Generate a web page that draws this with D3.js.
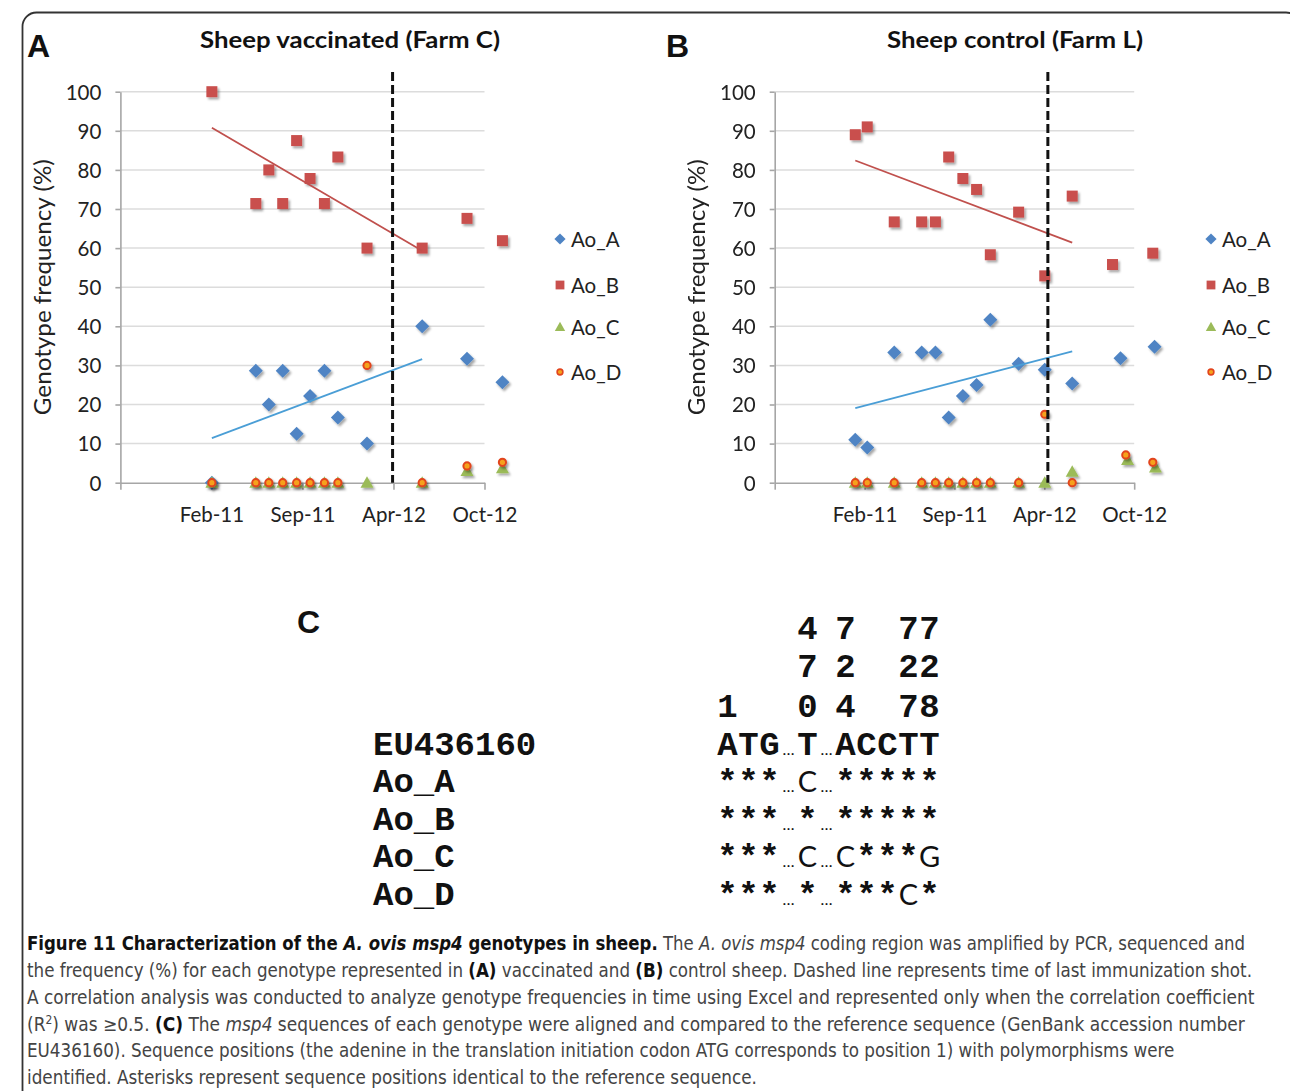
<!DOCTYPE html>
<html>
<head>
<meta charset="utf-8">
<script src="https://cdn.jsdelivr.net/npm/d3@7"></script>
<style>
  body { margin: 0; background: #fff; }
  svg { display: block; }
</style>
</head>
<body>
<svg id="fig" width="1290" height="1091"></svg>
<script>
// ---------- data ----------
var tickLabels = ["Feb-11", "Sep-11", "Apr-12", "Oct-12"];
var tickDates = ["2011-02-26", "2011-09-17", "2012-04-07", "2012-10-27"];
var axisStart = "2010-08-07";
var yTicks = [0, 10, 20, 30, 40, 50, 60, 70, 80, 90, 100];
var genotypes = ["Ao_A", "Ao_B", "Ao_C", "Ao_D"];

// Farm C (vaccinated)
var farmC_dates = ["2011-02-27", "2011-06-05", "2011-07-04", "2011-08-04", "2011-09-04", "2011-10-04",
                   "2011-11-05", "2011-12-05", "2012-02-08", "2012-06-10", "2012-09-18", "2012-12-06"];
var farmC_A = [0, 28.6, 20, 28.6, 12.5, 22.2, 28.6, 16.7, 10, 40, 31.7, 25.7];
var farmC_B = [100, 71.4, 80, 71.4, 87.5, 77.8, 71.4, 83.3, 60, 60, 67.6, 61.9];
var farmC_C = [0, 0, 0, 0, 0, 0, 0, 0, 0, 0, 3, 3.7];
var farmC_D = [0, 0, 0, 0, 0, 0, 0, 0, 30, 0, 4.3, 5.2];
var farmC_trendDates = ["2011-02-27", "2012-06-10"];
var farmC_trendA = [11.4, 31.6];
var farmC_trendB = [90.8, 59.3];
var farmC_lastShot = "2012-04-05";

// Farm L (control)
var farmL_dates = ["2011-02-05", "2011-03-04", "2011-05-04", "2011-07-05", "2011-08-05", "2011-09-04",
                   "2011-10-06", "2011-11-06", "2011-12-07", "2012-02-09", "2012-04-08", "2012-06-09"];
var farmL_A = [11, 9, 33.3, 33.3, 33.3, 16.7, 22.2, 25, 41.7, 30.4, 28.9, 25.4];
var farmL_B = [89, 91, 66.7, 66.7, 66.7, 83.3, 77.8, 75, 58.3, 69.2, 52.9, 73.3];
var farmL_C = [0, 0, 0, 0, 0, 0, 0, 0, 0, 0, 0, 2.8];
var farmL_D = [0, 0, 0, 0, 0, 0, 0, 0, 0, 0, 17.5, 0];
// last two samples are plotted at slightly different dates per genotype
var farmL_lateDates_A = ["2012-09-26", "2012-12-12"], farmL_late_A = [31.8, 34.8];
var farmL_lateDates_B = ["2012-09-08", "2012-12-08"], farmL_late_B = [55.8, 58.7];
var farmL_lateDates_C = ["2012-10-12", "2012-12-14"], farmL_late_C = [5.8, 3.9];
var farmL_lateDates_D = ["2012-10-08", "2012-12-08"], farmL_late_D = [7.1, 5.2];
var farmL_trendDates = ["2011-02-05", "2012-06-09"];
var farmL_trendA = [19.1, 33.6];
var farmL_trendB = [82.4, 61.4];
var farmL_lastShot = "2012-04-15";

// panel C alignment
var refName = "EU436160";
var refSeq = "ATG…T…ACCTT";
var genotypeSeqs = ["***…C…*****", "***…*…*****", "***…C…C***G", "***…*…***C*"];
var seqPositions = ["1", "", "", "470", "724", "", "", "727", "728"];

// caption
var captionLines = [
  [["Figure 11 Characterization of the ", "b"], ["A. ovis msp4", "bi"], [" genotypes in sheep.", "b"], [" The ", "n"], ["A. ovis msp4", "i"], [" coding region was amplified by PCR, sequenced and", "n"]],
  [["the frequency (%) for each genotype represented in ", "n"], ["(A)", "b"], [" vaccinated and ", "n"], ["(B)", "b"], [" control sheep. Dashed line represents time of last immunization shot.", "n"]],
  [["A correlation analysis was conducted to analyze genotype frequencies in time using Excel and represented only when the correlation coefficient", "n"]],
  [["(R", "n"], ["2", "sup"], [") was \u22650.5. ", "n"], ["(C)", "b"], [" The ", "n"], ["msp4", "i"], [" sequences of each genotype were aligned and compared to the reference sequence (GenBank accession number", "n"]],
  [["EU436160). Sequence positions (the adenine in the translation initiation codon ATG corresponds to position 1) with polymorphisms were", "n"]],
  [["identified. Asterisks represent sequence positions identical to the reference sequence.", "n"]]
];
var captionWidths = [1219, 1226, 1228, 1219, 1148, 730];

// ---------- drawing ----------
var parse = d3.timeParse("%Y-%m-%d");
var svg = d3.select("#fig");
var chartFont = "Lato, 'Open Sans', sans-serif";

var defs = svg.append("defs");
defs.append("filter").attr("id", "shadow")
    .attr("x", "-60%").attr("y", "-60%").attr("width", "220%").attr("height", "220%")
  .append("feDropShadow")
    .attr("dx", 1.8).attr("dy", 2.2).attr("stdDeviation", 1.3)
    .attr("flood-color", "#000").attr("flood-opacity", 0.35);

// frame
svg.append("rect")
    .attr("x", 22.5).attr("y", 12.5).attr("width", 1277.5).attr("height", 1200)
    .attr("rx", 14)
    .attr("fill", "none").attr("stroke", "#333").attr("stroke-width", 1.8);

function zipSeries(dates, values) {
    return dates.map(function(d, i) { return {date: parse(d), value: values[i]}; });
}

var colors = {Ao_A: "#4f84c4", Ao_B: "#c9504d", Ao_C: "#9bbb59", Ao_D: "#f5a21c"};

function drawMarker(sel, name, scale) {
    var s = scale || 1;
    if (name == "Ao_A") {
        sel.append("path").attr("d", "M0," + (-7 * s) + "L" + (7 * s) + ",0L0," + (7 * s) + "L" + (-7 * s) + ",0Z")
           .attr("fill", colors.Ao_A);
    } else if (name == "Ao_B") {
        sel.append("rect").attr("x", -5.5 * s).attr("y", -5.5 * s)
           .attr("width", 11 * s).attr("height", 11 * s).attr("fill", colors.Ao_B);
    } else if (name == "Ao_C") {
        sel.append("path").attr("d", "M0," + (-6.5 * s) + "L" + (6.5 * s) + "," + (5 * s) + "L" + (-6.5 * s) + "," + (5 * s) + "Z")
           .attr("fill", colors.Ao_C);
    } else {
        sel.append("circle").attr("r", 3.6 * s)
           .attr("fill", colors.Ao_D).attr("stroke", "#e2441d").attr("stroke-width", 2 * s);
    }
}

var panels = [
    {letter: "A", letterX: 27, title: "Sheep vaccinated (Farm C)", titleX: 350, titleW: 300,
     x0: 120.4, x1: 484.5, ylabelX: 51, legendX: 560,
     series: {
        Ao_A: zipSeries(farmC_dates, farmC_A),
        Ao_B: zipSeries(farmC_dates, farmC_B),
        Ao_C: zipSeries(farmC_dates, farmC_C),
        Ao_D: zipSeries(farmC_dates, farmC_D)
     },
     trendDates: farmC_trendDates, trendA: farmC_trendA, trendB: farmC_trendB,
     lastShot: farmC_lastShot},
    {letter: "B", letterX: 666, title: "Sheep control (Farm L)", titleX: 1015, titleW: 256,
     x0: 774.7, x1: 1134.2, ylabelX: 705, legendX: 1211,
     series: {
        Ao_A: zipSeries(farmL_dates.concat(farmL_lateDates_A), farmL_A.concat(farmL_late_A)),
        Ao_B: zipSeries(farmL_dates.concat(farmL_lateDates_B), farmL_B.concat(farmL_late_B)),
        Ao_C: zipSeries(farmL_dates.concat(farmL_lateDates_C), farmL_C.concat(farmL_late_C)),
        Ao_D: zipSeries(farmL_dates.concat(farmL_lateDates_D), farmL_D.concat(farmL_late_D))
     },
     trendDates: farmL_trendDates, trendA: farmL_trendA, trendB: farmL_trendB,
     lastShot: farmL_lastShot}
];

var yTop = 91.7, yBottom = 482.7;

panels.forEach(function(p) {
    var g = svg.append("g");

    var x = d3.scaleTime()
        .domain([parse(axisStart), parse(tickDates[tickDates.length - 1])])
        .range([p.x0, p.x1]);
    var y = d3.scaleLinear().domain([0, 100]).range([yBottom, yTop]);

    // panel letter and title
    g.append("text").attr("x", p.letterX).attr("y", 57)
        .attr("font-family", "'Liberation Sans', Arial, sans-serif").attr("font-weight", "bold")
        .attr("font-size", 32).attr("fill", "#111").text(p.letter);
    g.append("text").attr("x", p.titleX).attr("y", 48)
        .attr("text-anchor", "middle").attr("font-family", chartFont).attr("font-weight", "bold")
        .attr("font-size", 22).attr("fill", "#111")
        .attr("textLength", p.titleW).attr("lengthAdjust", "spacingAndGlyphs")
        .text(p.title);

    // gridlines
    g.append("g").selectAll("line")
        .data(yTicks.filter(function(d) { return d > 0; }))
        .join("line")
        .attr("x1", p.x0).attr("x2", p.x1)
        .attr("y1", function(d) { return y(d); }).attr("y2", function(d) { return y(d); })
        .attr("stroke", "#dcdcdc").attr("stroke-width", 1.5);

    // axes
    var xTickVals = [parse(axisStart)].concat(tickDates.map(parse));
    var xAxis = g.append("g")
        .attr("transform", "translate(0," + yBottom + ")")
        .call(d3.axisBottom(x)
            .tickValues(xTickVals)
            .tickSize(7).tickSizeOuter(0).tickPadding(18)
            .tickFormat(function(d, i) { return i == 0 ? "" : tickLabels[i - 1]; }));
    var yAxis = g.append("g")
        .attr("transform", "translate(" + p.x0 + ",0)")
        .call(d3.axisLeft(y).tickValues(yTicks).tickSize(5).tickSizeOuter(0).tickPadding(14));

    [xAxis, yAxis].forEach(function(ax) {
        ax.select(".domain").attr("stroke", "#a6a6a6").attr("stroke-width", 1.6);
        ax.selectAll(".tick line").attr("stroke", "#a6a6a6").attr("stroke-width", 1.6);
        ax.selectAll("text").attr("font-family", chartFont).attr("font-size", 20.5).attr("fill", "#222");
    });
    yAxis.selectAll("text").attr("dy", "0.36em");

    // y label
    g.append("text")
        .attr("transform", "translate(" + p.ylabelX + "," + (yTop + yBottom) / 2 + ") rotate(-90)")
        .attr("text-anchor", "middle").attr("font-family", chartFont).attr("font-size", 23)
        .attr("fill", "#222").attr("textLength", 256).attr("lengthAdjust", "spacingAndGlyphs")
        .text("Genotype frequency (%)");

    // markers, series in Excel order
    genotypes.forEach(function(name) {
        g.append("g").attr("filter", "url(#shadow)")
            .selectAll("g")
            .data(p.series[name])
            .join("g")
            .attr("transform", function(d) { return "translate(" + x(d.date) + "," + y(d.value) + ")"; })
            .each(function() { drawMarker(d3.select(this), name); });
    });

    // linear trend lines
    var trendLine = d3.line()
        .x(function(d) { return x(d.date); })
        .y(function(d) { return y(d.value); });
    g.append("path").datum(zipSeries(p.trendDates, p.trendB))
        .attr("d", trendLine).attr("fill", "none").attr("stroke", "#c0504d").attr("stroke-width", 1.8);
    g.append("path").datum(zipSeries(p.trendDates, p.trendA))
        .attr("d", trendLine).attr("fill", "none").attr("stroke", "#4a9ed6").attr("stroke-width", 1.8);

    // last immunization
    g.append("line")
        .attr("x1", x(parse(p.lastShot))).attr("x2", x(parse(p.lastShot)))
        .attr("y1", 72).attr("y2", yBottom)
        .attr("stroke", "#111").attr("stroke-width", 3).attr("stroke-dasharray", "9,4");

    // legend
    var legendY = [239, 285, 327, 372];
    var leg = g.append("g").selectAll("g")
        .data(genotypes)
        .join("g")
        .attr("transform", function(d, i) { return "translate(" + p.legendX + "," + legendY[i] + ")"; });
    leg.each(function(d) { drawMarker(d3.select(this), d, 0.8); });
    leg.append("text").attr("x", 11).attr("y", 7.5)
        .attr("font-family", chartFont).attr("font-size", 20.5).attr("fill", "#222")
        .text(function(d) { return d; });
});

// ---------- panel C ----------
var gc = svg.append("g");
gc.append("text").attr("x", 297).attr("y", 633)
    .attr("font-family", "'Liberation Sans', Arial, sans-serif").attr("font-weight", "bold")
    .attr("font-size", 32).attr("fill", "#111").text("C");

var monoFont = "'Liberation Mono', 'Courier New', monospace";
var nameX = 373, seqX = 717, colW = 21, dotsW = 17;
var rowBase = [755, 792, 830, 867, 905];
var digitBase = [639, 677, 717];

// label column
gc.selectAll("text.name")
    .data([refName].concat(genotypes))
    .join("text").attr("class", "name")
    .attr("x", nameX).attr("y", function(d, i) { return rowBase[i]; })
    .attr("font-family", monoFont).attr("font-weight", "bold").attr("font-size", 34).attr("fill", "#111")
    .text(function(d) { return d; });

// lay out one alignment row: residues share columns, ellipses are narrower gaps
function layoutSeq(seq) {
    var cx = seqX, out = [], col = 0;
    Array.from(seq).forEach(function(ch) {
        if (ch == "…") {
            out.push({ch: ch, x: cx + dotsW / 2, dots: true});
            cx += dotsW;
        } else {
            out.push({ch: ch, x: cx + colW / 2, col: col});
            cx += colW;
            col += 1;
        }
    });
    return out;
}

var refLayout = layoutSeq(refSeq);
var colCenters = refLayout.filter(function(d) { return !d.dots; }).map(function(d) { return d.x; });

// sequence positions written vertically, bottom aligned
seqPositions.forEach(function(pos, c) {
    var digits = Array.from(pos);
    digits.forEach(function(dg, k) {
        var row = digitBase.length - digits.length + k;
        gc.append("text").attr("x", colCenters[c]).attr("y", digitBase[row])
            .attr("text-anchor", "middle").attr("font-family", monoFont).attr("font-weight", "bold")
            .attr("font-size", 34).attr("fill", "#111").text(dg);
    });
});

[refSeq].concat(genotypeSeqs).forEach(function(seq, r) {
    var isRef = r == 0;
    gc.append("g").selectAll("text")
        .data(layoutSeq(seq))
        .join("text")
        .attr("x", function(d) { return d.x; })
        .attr("y", rowBase[r])
        .attr("text-anchor", "middle")
        .attr("fill", "#111")
        .each(function(d) {
            var t = d3.select(this);
            if (d.dots) {
                t.attr("font-family", chartFont).attr("font-size", 16);
            } else if (isRef || d.ch == "*") {
                t.attr("font-family", monoFont).attr("font-weight", "bold").attr("font-size", 34);
            } else {
                t.attr("font-family", chartFont).attr("font-size", 29);
            }
        })
        .text(function(d) { return d.ch; });
});

// ---------- caption ----------
// each line is drawn at natural width, then squeezed horizontally to the measured width
var capFont = "'Liberation Sans Narrow', 'DejaVu Sans Condensed', 'Roboto', sans-serif";
var capBase = [950, 977, 1004, 1031, 1057, 1084];
captionLines.forEach(function(line, i) {
    var t = svg.append("text")
        .attr("x", 0).attr("y", 0)
        .attr("font-family", capFont).attr("font-size", 19).attr("fill", "#444");
    line.forEach(function(seg, k) {
        var ts = t.append("tspan").text(seg[0]);
        if (seg[1] == "b" || seg[1] == "bi") ts.attr("font-weight", "bold").attr("fill", "#111");
        if (seg[1] == "i" || seg[1] == "bi") ts.attr("font-style", "italic");
        if (seg[1] == "sup") ts.attr("font-size", 12).attr("dy", -7);
        if (k > 0 && line[k - 1][1] == "sup") ts.attr("dy", 7);
    });
    var natural = t.node().getComputedTextLength();
    var sx = captionWidths[i] / natural;
    t.attr("transform", "translate(27," + capBase[i] + ") scale(" + sx + ",1)");
});
</script>
</body>
</html>
